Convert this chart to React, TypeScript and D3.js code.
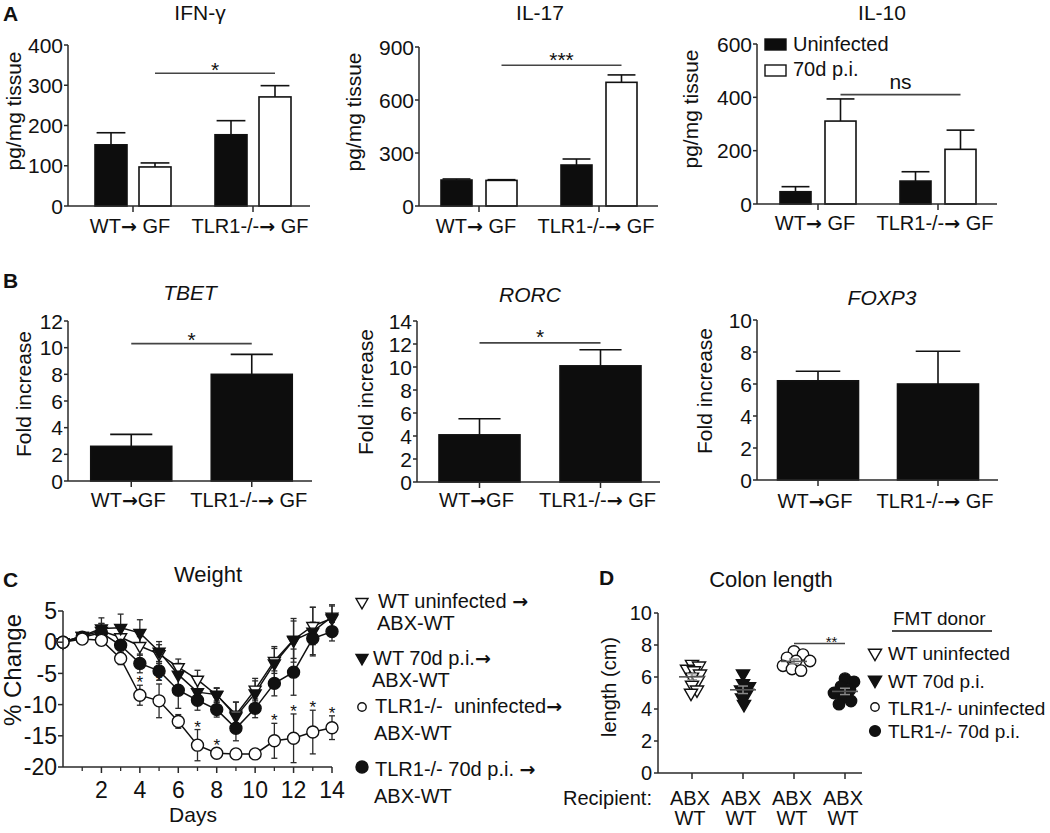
import React from 'react';
import * as d3 from 'd3';

const FONT = '"Liberation Sans", Arial, Helvetica, sans-serif';
const ARROW_FONT = '"DejaVu Sans", sans-serif';
const INK = '#111';
const AXIS = '#2a2a2a';
const SIG = '#444';

// ---------------- Panel A : cytokines ----------------
const cytokineGroups = ['WT→ GF', 'TLR1-/-→ GF'];
const infectionSeries = ['Uninfected', '70d p.i.'];
const ifnUninfected = [152, 177];
const ifnUninfectedErr = [30, 35];
const ifn70d = [97, 271];
const ifn70dErr = [10, 28];
const ifnTicks = [0, 100, 200, 300, 400];
const il17Uninfected = [147, 232];
const il17UninfectedErr = [6, 34];
const il1770d = [145, 700];
const il1770dErr = [4, 42];
const il17Ticks = [0, 300, 600, 900];
const il10Uninfected = [46, 86];
const il10UninfectedErr = [19, 35];
const il1070d = [311, 205];
const il1070dErr = [83, 72];
const il10Ticks = [0, 200, 400, 600];

// ---------------- Panel B : transcription factors ----------------
const txGroups = ['WT→GF', 'TLR1-/-→ GF'];
const tbet = [2.6, 8.0];
const tbetErr = [0.9, 1.5];
const tbetTicks = [0, 2, 4, 6, 8, 10, 12];
const rorc = [4.1, 10.1];
const rorcErr = [1.4, 1.4];
const rorcTicks = [0, 2, 4, 6, 8, 10, 12, 14];
const foxp3 = [6.2, 6.0];
const foxp3Err = [0.6, 2.05];
const foxp3Ticks = [0, 2, 4, 6, 8, 10];

// ---------------- Panel C : weight ----------------
const days = [0, 1, 2, 3, 4, 5, 6, 7, 8, 9, 10, 11, 12, 13, 14];
const dayTicks = [2, 4, 6, 8, 10, 12, 14];
const dayMinorTicks = [1, 3, 5, 7, 9, 11, 13];
const weightTicks = [-20, -15, -10, -5, 0, 5];
const wtUninfWeight = [0, 1.0, 1.8, 0.8, -0.6, -1.9, -4.0, -6.0, -8.5, -11.6, -7.6, -3.0, 0.4, 2.6, 3.8];
const wtUninfErr = [0, 0.5, 1.2, 1.5, 1.5, 1.5, 1.3, 1.5, 1.2, 2.0, 1.8, 2.0, 3.0, 3.0, 2.0];
const wt70Weight = [0, 1.0, 2.2, 2.3, 1.5, -1.5, -5.2, -8.0, -8.4, -11.9, -8.2, -3.4, 0.3, 1.7, 4.1];
const wt70Err = [0, 0.6, 1.7, 2.2, 2.1, 1.6, 1.8, 1.5, 1.0, 2.3, 2.0, 2.7, 3.5, 3.9, 1.9];
const tlrUninfWeight = [0, 0.5, 0.3, -2.6, -8.5, -9.4, -12.7, -16.5, -17.8, -17.9, -17.9, -15.8, -15.4, -14.4, -13.7];
const tlrUninfErr = [0, 0.5, 0.8, 1.0, 1.6, 2.7, 1.1, 2.5, 0.8, 0.8, 0.6, 2.8, 3.9, 3.5, 1.9];
const tlr70Weight = [0, 0.8, 1.5, -0.5, -3.4, -4.6, -7.7, -9.3, -10.8, -13.8, -10.6, -6.6, -4.8, 0.6, 1.7];
const tlr70Err = [0, 0.6, 1.5, 1.2, 1.5, 1.5, 2.9, 1.6, 1.2, 2.0, 1.5, 2.0, 3.7, 2.6, 1.5];
const starDays = [4, 5, 7, 8, 11, 12, 13, 14];

// ---------------- Panel D : colon length ----------------
const donorGroups = ['WT uninfected', 'WT 70d p.i.', 'TLR1-/- uninfected', 'TLR1-/- 70d p.i.'];
const colonWtUninf = [6.8, 6.7, 6.5, 6.4, 6.2, 6.0, 5.8, 5.5, 5.2, 5.0];
const colonWt70 = [6.2, 5.6, 5.4, 5.2, 5.0, 4.7, 4.3];
const colonTlrUninf = [7.6, 7.4, 7.2, 7.0, 7.0, 6.7, 6.5, 6.4];
const colonTlr70 = [5.9, 5.7, 5.4, 5.2, 5.0, 4.8, 4.5, 4.3];
const colonTicks = [0, 2, 4, 6, 8, 10];

type Series = { name: string; values: number[]; errs: number[]; fill: string };

// render "→" in a font that draws a bigger arrow
function withArrow(s: string) {
  const parts = s.split('→');
  const out: React.ReactNode[] = [];
  parts.forEach((p, i) => {
    if (i > 0) out.push(<tspan key={'a' + i} fontFamily={ARROW_FONT} fontWeight="bold" fontSize="0.95em">→</tspan>);
    if (p) out.push(<tspan key={'t' + i}>{p}</tspan>);
  });
  return out;
}

function BarPanel(p: {
  axisX: number; right: number; y0: number; yTop: number; max: number; ticks: number[];
  groups: string[]; groupRange: [number, number]; series: Series[]; barWidth: number; barGap: number;
  capRatio: number; title: string; italic?: boolean; titleX: number; titleY: number;
  ylabel: string; ylabelX: number; ylabelY: number; xlabelY: number;
  sig?: { text: string; from: [number, number]; to: [number, number]; value: number; textY: number; size: number };
}) {
  const y = d3.scaleLinear().domain([0, p.max]).range([p.y0, p.yTop]);
  const gx = d3.scaleBand<string>().domain(p.groups).range(p.groupRange);
  const names = p.series.map((s) => s.name);
  const n = names.length;
  const total = n * p.barWidth + (n - 1) * p.barGap;
  const center = (g: string) => (gx(g) as number) + gx.bandwidth() / 2;
  const inner = (g: string) => {
    const c = center(g);
    return d3.scaleBand<string>().domain(names).range([c - total / 2, c + total / 2])
      .paddingInner(n > 1 ? p.barGap / (p.barWidth + p.barGap) : 0);
  };
  const barCenter = (gi: number, si: number) => {
    const sc = inner(p.groups[gi]);
    return (sc(names[si]) as number) + sc.bandwidth() / 2;
  };
  return (
    <g>
      <text x={p.titleX} y={p.titleY} fontSize={21} textAnchor="middle" fontStyle={p.italic ? 'italic' : 'normal'} fill={INK}>{p.title}</text>
      <text transform={`translate(${p.ylabelX},${p.ylabelY}) rotate(-90)`} fontSize={21} textAnchor="middle" fill={INK}>{p.ylabel}</text>
      {p.groups.map((g, gi) => {
        const sc = inner(g);
        return p.series.map((s) => {
          const x = sc(s.name) as number;
          const w = sc.bandwidth();
          const v = s.values[gi];
          const e = s.errs[gi];
          const cx = x + w / 2;
          const cw = w * p.capRatio;
          return (
            <g key={g + s.name}>
              <line x1={cx} x2={cx} y1={y(v)} y2={y(v + e)} stroke={INK} strokeWidth={1.6} />
              <line x1={cx - cw / 2} x2={cx + cw / 2} y1={y(v + e)} y2={y(v + e)} stroke={INK} strokeWidth={1.6} />
              <rect x={x} y={y(v)} width={w} height={p.y0 - y(v)} fill={s.fill} stroke={INK} strokeWidth={1.6} />
            </g>
          );
        });
      })}
      <line x1={p.axisX} x2={p.axisX} y1={y(p.max)} y2={p.y0} stroke={AXIS} strokeWidth={1.5} />
      {p.ticks.map((t) => (
        <g key={t}>
          <line x1={p.axisX - 4} x2={p.axisX} y1={y(t)} y2={y(t)} stroke={AXIS} strokeWidth={1.5} />
          <text x={p.axisX - 5} y={y(t)} dy="0.36em" fontSize={21} textAnchor="end" fill={INK}>{t}</text>
        </g>
      ))}
      <line x1={p.axisX} x2={p.right} y1={p.y0} y2={p.y0} stroke={AXIS} strokeWidth={1.5} />
      {p.groups.map((g) => (
        <g key={g}>
          <line x1={center(g)} x2={center(g)} y1={p.y0} y2={p.y0 + 6} stroke={AXIS} strokeWidth={1.5} />
          <text x={center(g) - 3} y={p.xlabelY} fontSize={20} textAnchor="middle" fill={INK}>{withArrow(g)}</text>
        </g>
      ))}
      {p.sig && (
        <g>
          <line x1={barCenter(p.sig.from[0], p.sig.from[1])} x2={barCenter(p.sig.to[0], p.sig.to[1])}
            y1={y(p.sig.value)} y2={y(p.sig.value)} stroke={SIG} strokeWidth={1.6} />
          <text x={(barCenter(p.sig.from[0], p.sig.from[1]) + barCenter(p.sig.to[0], p.sig.to[1])) / 2}
            y={p.sig.textY} fontSize={p.sig.size} textAnchor="middle" fill={INK}>{p.sig.text}</text>
        </g>
      )}
    </g>
  );
}

const triDown = (size: number) => d3.symbol().type(d3.symbolTriangle).size(size)() as string;

function Marker({ kind, x, y, scale = 1 }: { kind: number; x: number; y: number; scale?: number }) {
  // 0 open tri, 1 filled tri, 2 open circle, 3 filled circle
  if (kind === 0 || kind === 1) {
    return <path d={triDown(62 * scale * scale)} transform={`translate(${x},${y}) rotate(180)`}
      fill={kind === 1 ? INK : '#fff'} stroke={INK} strokeWidth={1.4} />;
  }
  return <circle cx={x} cy={y} r={6 * scale} fill={kind === 3 ? INK : '#fff'} stroke={INK} strokeWidth={1.4} />;
}

function WeightPanel() {
  const x = d3.scaleLinear().domain([0, 14]).range([63, 332]);
  const y = d3.scaleLinear().domain([-20, 5]).range([767, 611]);
  const series = [
    { kind: 0, v: wtUninfWeight, e: wtUninfErr },
    { kind: 1, v: wt70Weight, e: wt70Err },
    { kind: 3, v: tlr70Weight, e: tlr70Err },
    { kind: 2, v: tlrUninfWeight, e: tlrUninfErr },
  ];
  const line = d3.line<number>().x((_, i) => x(days[i])).y((d) => y(d));
  return (
    <g>
      <text x={3} y={587} fontSize={21} fontWeight="bold" fill={INK}>C</text>
      <text x={208} y={582} fontSize={22} textAnchor="middle" fill={INK}>Weight</text>
      <text transform={`translate(21,670) rotate(-90)`} fontSize={24} textAnchor="middle" fill={INK}>% Change</text>
      {series.map((s) => (
        <path key={'l' + s.kind} d={line(s.v) as string} fill="none" stroke={INK} strokeWidth={1.5} />
      ))}
      {series.map((s) => s.v.map((v, i) => s.e[i] > 0 ? (
        <g key={'e' + s.kind + i}>
          <line x1={x(days[i])} x2={x(days[i])} y1={y(v - s.e[i])} y2={y(v + s.e[i])} stroke={AXIS} strokeWidth={1.3} />
          <line x1={x(days[i]) - 3} x2={x(days[i]) + 3} y1={y(v - s.e[i])} y2={y(v - s.e[i])} stroke={AXIS} strokeWidth={1.3} />
          <line x1={x(days[i]) - 3} x2={x(days[i]) + 3} y1={y(v + s.e[i])} y2={y(v + s.e[i])} stroke={AXIS} strokeWidth={1.3} />
        </g>
      ) : null))}
      {series.map((s) => s.v.map((v, i) => (
        <Marker key={'m' + s.kind + i} kind={s.kind} x={x(days[i])} y={y(v)} />
      )))}
      {starDays.map((d) => {
        const i = days.indexOf(d);
        return <text key={'s' + d} x={x(d)} y={y(tlrUninfWeight[i] + tlrUninfErr[i]) + 3} fontSize={17} textAnchor="middle" fill={INK}>*</text>;
      })}
      <line x1={63} x2={63} y1={y(5)} y2={y(-20)} stroke={AXIS} strokeWidth={1.5} />
      {weightTicks.map((t) => (
        <g key={'yt' + t}>
          <line x1={58} x2={63} y1={y(t)} y2={y(t)} stroke={AXIS} strokeWidth={1.5} />
          <text x={57} y={y(t)} dy="0.36em" fontSize={23} textAnchor="end" fill={INK}>{t}</text>
        </g>
      ))}
      <line x1={63} x2={x(14)} y1={767} y2={767} stroke={AXIS} strokeWidth={1.5} />
      {dayTicks.map((t) => (
        <g key={'xt' + t}>
          <line x1={x(t)} x2={x(t)} y1={767} y2={773} stroke={AXIS} strokeWidth={1.5} />
          <text x={x(t)} y={798} fontSize={23} textAnchor="middle" fill={INK}>{t}</text>
        </g>
      ))}
      {dayMinorTicks.map((t) => (
        <line key={'mt' + t} x1={x(t)} x2={x(t)} y1={767} y2={771} stroke={AXIS} strokeWidth={1.3} />
      ))}
      <text x={193} y={822} fontSize={21} textAnchor="middle" fill={INK}>Days</text>
      {[
        { k: 0, sy: 602, t1: 'WT uninfected ', tx: 378, ty: 608, t2y: 630, t2x: 377 },
        { k: 1, sy: 658, t1: 'WT 70d p.i.', tx: 373, ty: 665, t2y: 687, t2x: 372 },
        { k: 2, sy: 707, t1: 'TLR1-/-  uninfected', tx: 375, ty: 713, t2y: 740, t2x: 374 },
        { k: 3, sy: 767, t1: 'TLR1-/- 70d p.i. ', tx: 375, ty: 776, t2y: 803, t2x: 374 },
      ].map((l) => (
        <g key={'lg' + l.k}>
          <Marker kind={l.k} x={362} y={l.sy} scale={l.k === 2 ? 0.7 : 1.0} />
          <text x={l.tx} y={l.ty} fontSize={20} fill={INK} style={{ whiteSpace: 'pre' }}>{withArrow(l.t1 + '→')}</text>
          <text x={l.t2x} y={l.t2y} fontSize={20} fill={INK}>ABX-WT</text>
        </g>
      ))}
    </g>
  );
}

function ColonPanel() {
  const y = d3.scaleLinear().domain([0, 10]).range([773, 613]);
  const x = d3.scalePoint<string>().domain(donorGroups).range([692, 845]);
  const groups = [colonWtUninf, colonWt70, colonTlrUninf, colonTlr70];
  const r = 5.5;
  const placed = groups.map((vals, gi) => {
    const pts: { v: number; dx: number }[] = [];
    const minD = 2 * r * (gi < 2 ? 0.6 : 0.8);
    vals.forEach((v) => {
      const cands = d3.range(0, 30).flatMap((k) => (k === 0 ? [0] : [k, -k]));
      let dx = 0;
      for (const c of cands) {
        const ok = pts.every((q) => Math.hypot(q.dx - c, (y(q.v) - y(v))) >= minD);
        if (ok) { dx = c; break; }
      }
      pts.push({ v, dx });
    });
    return pts;
  });
  return (
    <g>
      <text x={599} y={585} fontSize={21} fontWeight="bold" fill={INK}>D</text>
      <text x={771} y={587} fontSize={22} textAnchor="middle" fill={INK}>Colon length</text>
      <text transform={`translate(616,687) rotate(-90)`} fontSize={20} textAnchor="middle" fill={INK}>length (cm)</text>
      {groups.map((vals, gi) => {
        const cx = x(donorGroups[gi]) as number;
        const m = d3.mean(vals) as number;
        const sem = (d3.deviation(vals) as number) / Math.sqrt(vals.length);
        return (
          <g key={'cg' + gi}>
            {placed[gi].map((pt, i) => (
              <Marker key={i} kind={gi} x={cx + pt.dx} y={y(pt.v)} scale={gi < 2 ? 1.1 : 0.95} />
            ))}
            <line x1={cx} x2={cx} y1={y(m - sem)} y2={y(m + sem)} stroke="#888" strokeWidth={1.5} />
            <line x1={cx - 5} x2={cx + 5} y1={y(m - sem)} y2={y(m - sem)} stroke="#888" strokeWidth={1.5} />
            <line x1={cx - 5} x2={cx + 5} y1={y(m + sem)} y2={y(m + sem)} stroke="#888" strokeWidth={1.5} />
            <line x1={cx - 13} x2={cx + 13} y1={y(m)} y2={y(m)} stroke="#555" strokeWidth={1.6} />
          </g>
        );
      })}
      <line x1={658} x2={658} y1={y(10)} y2={y(0)} stroke={AXIS} strokeWidth={1.5} />
      {colonTicks.map((t) => (
        <g key={'ct' + t}>
          <line x1={654} x2={658} y1={y(t)} y2={y(t)} stroke={AXIS} strokeWidth={1.5} />
          <text x={652} y={y(t)} dy="0.36em" fontSize={20} textAnchor="end" fill={INK}>{t}</text>
        </g>
      ))}
      <line x1={658} x2={862} y1={773} y2={773} stroke={AXIS} strokeWidth={1.5} />
      {donorGroups.map((g) => (
        <g key={'cx' + g}>
          <line x1={x(g)} x2={x(g)} y1={773} y2={779} stroke={AXIS} strokeWidth={1.5} />
          <text x={(x(g) as number) - 2} y={805} fontSize={20} textAnchor="middle" fill={INK}>ABX</text>
          <text x={(x(g) as number) - 2} y={825} fontSize={20} textAnchor="middle" fill={INK}>WT</text>
        </g>
      ))}
      <text x={563} y={805} fontSize={20} fill={INK}>Recipient:</text>
      <line x1={x(donorGroups[2])} x2={x(donorGroups[3])} y1={y(8.1)} y2={y(8.1)} stroke={SIG} strokeWidth={1.5} />
      <text x={((x(donorGroups[2]) as number) + (x(donorGroups[3]) as number)) / 2 + 12} y={y(8.1) + 4} fontSize={15} textAnchor="middle" fill={INK}>**</text>
      <text x={893} y={625} fontSize={19} fill={INK}>FMT donor</text>
      <line x1={892} x2={992} y1={631} y2={631} stroke={INK} strokeWidth={1.5} />
      {donorGroups.map((g, i) => (
        <g key={'dl' + g}>
          <Marker kind={i} x={875} y={[653, 680, 707, 731][i]} scale={i === 2 ? 0.7 : i === 3 ? 0.9 : 1.1} />
          <text x={888} y={[660, 688, 715, 738][i]} fontSize={19} fill={INK}>{g}</text>
        </g>
      ))}
    </g>
  );
}

export default function App() {
  const blk = '#0d0d0d';
  return (
    <svg width={1050} height={833} style={{ position: 'absolute', left: 0, top: 0, background: '#fff' }} fontFamily={FONT}>
      <rect width={1050} height={833} fill="#fff" />
      <text x={3} y={21} fontSize={21} fontWeight="bold" fill={INK}>A</text>
      <BarPanel axisX={68} right={310} y0={206} yTop={45} max={400} ticks={ifnTicks}
        groups={cytokineGroups} groupRange={[73, 313]} barWidth={32} barGap={12} capRatio={0.9}
        series={[
          { name: infectionSeries[0], values: ifnUninfected, errs: ifnUninfectedErr, fill: blk },
          { name: infectionSeries[1], values: ifn70d, errs: ifn70dErr, fill: '#fff' },
        ]}
        title="IFN-γ" titleX={200} titleY={20} ylabel="pg/mg tissue" ylabelX={21} ylabelY={111} xlabelY={233}
        sig={{ text: '*', from: [0, 1], to: [1, 1], value: 330, textY: 77, size: 21 }} />
      <BarPanel axisX={419} right={658} y0={206} yTop={47} max={900} ticks={il17Ticks}
        groups={cytokineGroups} groupRange={[419, 659]} barWidth={31} barGap={14} capRatio={0.9}
        series={[
          { name: infectionSeries[0], values: il17Uninfected, errs: il17UninfectedErr, fill: blk },
          { name: infectionSeries[1], values: il1770d, errs: il1770dErr, fill: '#fff' },
        ]}
        title="IL-17" titleX={540} titleY={20} ylabel="pg/mg tissue" ylabelX={361} ylabelY={112} xlabelY={233}
        sig={{ text: '***', from: [0, 1], to: [1, 1], value: 797, textY: 67, size: 21 }} />
      <BarPanel axisX={757} right={997} y0={204} yTop={44} max={600} ticks={il10Ticks}
        groups={cytokineGroups} groupRange={[758, 998]} barWidth={31} barGap={14} capRatio={0.9}
        series={[
          { name: infectionSeries[0], values: il10Uninfected, errs: il10UninfectedErr, fill: blk },
          { name: infectionSeries[1], values: il1070d, errs: il1070dErr, fill: '#fff' },
        ]}
        title="IL-10" titleX={882} titleY={20} ylabel="pg/mg tissue" ylabelX={698} ylabelY={109} xlabelY={230}
        sig={{ text: 'ns', from: [0, 1], to: [1, 1], value: 410, textY: 89, size: 21 }} />
      <rect x={765} y={39} width={21} height={11} fill={blk} stroke={INK} strokeWidth={1.4} />
      <text x={793} y={51} fontSize={20} fill={INK}>{infectionSeries[0]}</text>
      <rect x={765} y={65} width={21} height={11} fill="#fff" stroke={INK} strokeWidth={1.4} />
      <text x={793} y={76} fontSize={20} fill={INK}>{infectionSeries[1]}</text>

      <text x={3} y={288} fontSize={21} fontWeight="bold" fill={INK}>B</text>
      <BarPanel axisX={68} right={312} y0={481} yTop={321} max={12} ticks={tbetTicks}
        groups={txGroups} groupRange={[71, 312]} barWidth={81} barGap={0} capRatio={0.52}
        series={[{ name: 'fold', values: tbet, errs: tbetErr, fill: blk }]}
        title="TBET" italic titleX={190} titleY={300} ylabel="Fold increase" ylabelX={31} ylabelY={394} xlabelY={507}
        sig={{ text: '*', from: [0, 0], to: [1, 0], value: 10.3, textY: 347, size: 21 }} />
      <BarPanel axisX={417} right={660} y0={482} yTop={321} max={14} ticks={rorcTicks}
        groups={txGroups} groupRange={[419, 661]} barWidth={81} barGap={0} capRatio={0.52}
        series={[{ name: 'fold', values: rorc, errs: rorcErr, fill: blk }]}
        title="RORC" italic titleX={530} titleY={302} ylabel="Fold increase" ylabelX={373} ylabelY={392} xlabelY={507}
        sig={{ text: '*', from: [0, 0], to: [1, 0], value: 12.1, textY: 344, size: 21 }} />
      <BarPanel axisX={757} right={998} y0={480} yTop={320} max={10} ticks={foxp3Ticks}
        groups={txGroups} groupRange={[758, 998]} barWidth={81} barGap={0} capRatio={0.55}
        series={[{ name: 'fold', values: foxp3, errs: foxp3Err, fill: blk }]}
        title="FOXP3" italic titleX={882} titleY={305} ylabel="Fold increase" ylabelX={712} ylabelY={391} xlabelY={508} />

      <WeightPanel />
      <ColonPanel />
    </svg>
  );
}
